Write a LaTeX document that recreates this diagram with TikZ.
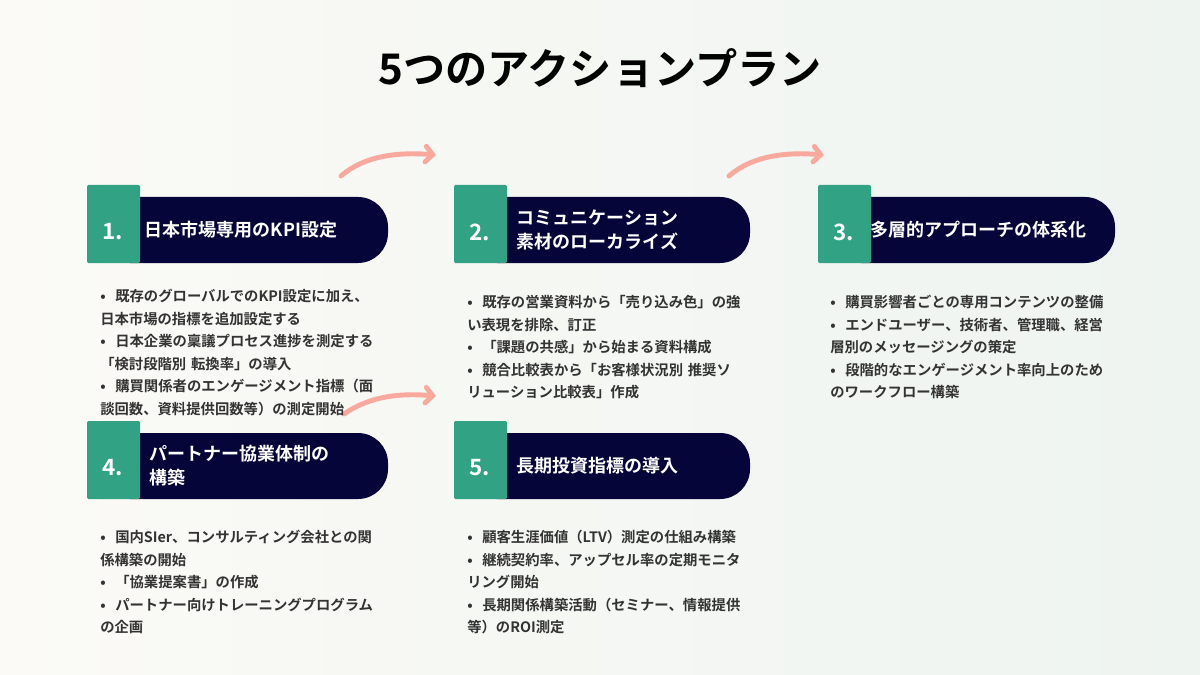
\documentclass[tikz,border=0pt]{standalone}
\usepackage{fontspec}
\setmainfont{Noto Sans CJK JP}
\newfontfamily\jpbold{Noto Sans CJK JP Bold}
\usetikzlibrary{arrows.meta}
\definecolor{navy}{HTML}{05053A}
\definecolor{badgegreen}{HTML}{31A384}
\definecolor{salmon}{HTML}{F8A89C}
\definecolor{bgl}{HTML}{FBFAF6}
\definecolor{bgr}{HTML}{EEF4F0}
\definecolor{ink}{HTML}{333333}
\newcommand{\bitem}[1]{\par\hangindent=0.375cm\hangafter=1\noindent\makebox[0.375cm][l]{•}#1}
\tikzset{
  badge/.style={fill=badgegreen, rounded corners=1pt},
  pill/.style={fill=navy, rounded corners=0.75cm},
  num/.style={text=white, font=\jpbold\fontsize{16}{18}\selectfont},
  head/.style={text=white, anchor=west, align=left, font=\jpbold\fontsize{12.8}{17}\selectfont},
  body/.style={anchor=north west, text width=#1, text=ink, inner sep=0pt,
    font=\jpbold\fontsize{10.2}{16}\selectfont},
  flow/.style={salmon, line width=3.5pt, line cap=round, -{Straight Barb[length=5pt,width=11pt,line cap=round]}}
}
\begin{document}
\begin{tikzpicture}[x=0.025cm, y=-0.025cm]
    % Background
    \shade[left color=bgl, right color=bgr] (0,0) rectangle (1200,675);
    \useasboundingbox (0,0) rectangle (1200,675);

    % Title
    \node[font=\jpbold\fontsize{30}{34}\selectfont, text=black] (title) at (600,68) {5つのアクションプラン};

    % Arrows between cards
    \coordinate (a1s) at (341,176); \coordinate (a1e) at (436,155);
    \coordinate (a2s) at (729,176); \coordinate (a2e) at (824,155);
    \coordinate (a3s) at (344,414); \coordinate (a3e) at (436,396);
    \draw[flow] (a1s) .. controls (365,155) and (400,152) .. (a1e);
    \draw[flow] (a2s) .. controls (753,155) and (788,152) .. (a2e);
    \draw[flow] (a3s) .. controls (370,396) and (400,393) .. (a3e);

    % Card 1
    \fill[pill] (100,197) rectangle (388,263);
    \fill[badge] (87,185) rectangle (140,263);
    \node[num] (n1) at (113,232) {1.};
    \node[head] (h1) at (140,230) {日本市場専用のKPI設定};
    \node[body=6.9cm] (b1) at (100,279) {%
      \bitem{既存のグローバルでのKPI設定に加え、\\日本市場の指標を追加設定する}
      \bitem{日本企業の稟議プロセス進捗を測定する\\「検討段階別 転換率」の導入}
      \bitem{購買関係者のエンゲージメント指標（面\\談回数、資料提供回数等）の測定開始}};

    % Card 2
    \fill[pill] (467,197) rectangle (750,263);
    \fill[badge] (454,185) rectangle (507,263);
    \node[num] (n2) at (480,232) {2.};
    \node[head] (h2) at (512,230) {コミュニケーション\\素材のローカライズ};
    \node[body=6.9cm] (b2) at (467,285) {%
      \bitem{既存の営業資料から「売り込み色」の強\\い表現を排除、訂正}
      \bitem{「課題の共感」から始まる資料構成}
      \bitem{競合比較表から「お客様状況別 推奨ソ\\リューション比較表」作成}};

    % Card 3
    \fill[pill] (831,197) rectangle (1115,263);
    \fill[badge] (818,185) rectangle (871,263);
    \node[num] (n3) at (844,232) {3.};
    \node[head] (h3) at (866,230) {多層的アプローチの体系化};
    \node[body=6.9cm] (b3) at (830,285) {%
      \bitem{購買影響者ごとの専用コンテンツの整備}
      \bitem{エンドユーザー、技術者、管理職、経営\\層別のメッセージングの策定}
      \bitem{段階的なエンゲージメント率向上のため\\のワークフロー構築}};

    % Card 4
    \fill[pill] (100,433) rectangle (388,499);
    \fill[badge] (87,421) rectangle (140,499);
    \node[num] (n4) at (113,468) {4.};
    \node[head] (h4) at (145,466) {パートナー協業体制の\\構築};
    \node[body=6.9cm] (b4) at (100,520) {%
      \bitem{国内SIer、コンサルティング会社との関\\係構築の開始}
      \bitem{「協業提案書」の作成}
      \bitem{パートナー向けトレーニングプログラム\\の企画}};

    % Card 5
    \fill[pill] (467,433) rectangle (750,499);
    \fill[badge] (454,421) rectangle (507,499);
    \node[num] (n5) at (480,468) {5.};
    \node[head] (h5) at (512,466) {長期投資指標の導入};
    \node[body=6.9cm] (b5) at (467,520) {%
      \bitem{顧客生涯価値（LTV）測定の仕組み構築}
      \bitem{継続契約率、アップセル率の定期モニタ\\リング開始}
      \bitem{長期関係構築活動（セミナー、情報提供\\等）のROI測定}};
\end{tikzpicture}
\end{document}
